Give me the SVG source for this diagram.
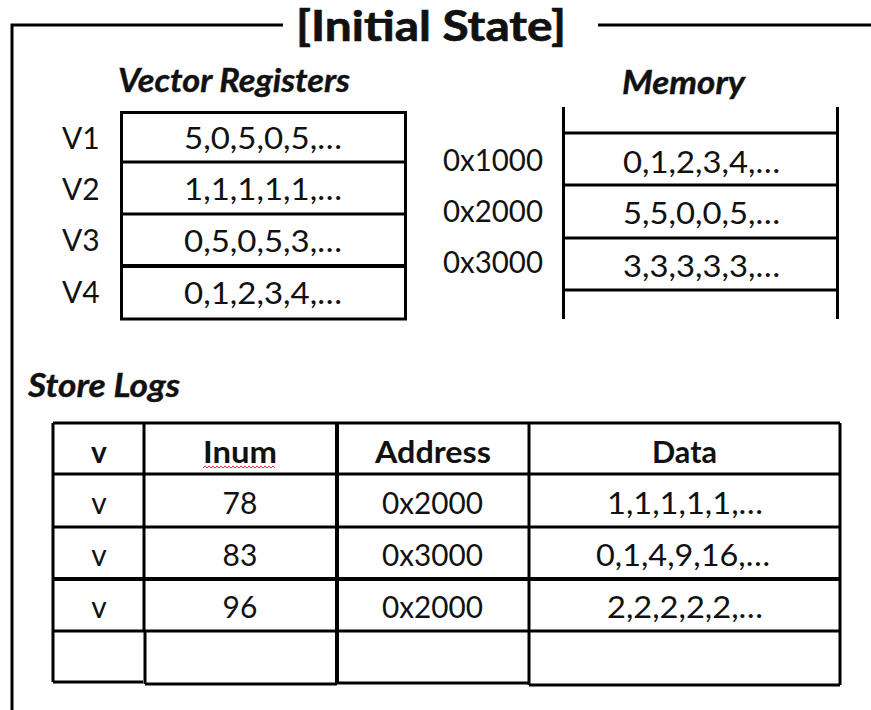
<svg xmlns="http://www.w3.org/2000/svg" width="871" height="710" viewBox="0 0 871 710">
<style>
.ln{stroke:#000;stroke-width:3;fill:none}
.tk{stroke:#000;stroke-width:4;fill:none}
.t{font-family:Lato,"Open Sans","Liberation Sans",sans-serif;font-size:30px;fill:#111}
.c{text-anchor:middle}
.b{font-weight:bold}
.h{font-family:Lato,"Open Sans","Liberation Sans",sans-serif;font-weight:bold;font-style:italic;font-size:32px;fill:#111;stroke:#111;stroke-width:0.4}
.ttl{font-family:Lato,"Open Sans","Liberation Sans",sans-serif;font-weight:bold;font-size:42px;fill:#111;stroke:#111;stroke-width:0.7}
</style>
<rect width="871" height="710" fill="#fff"/>
<g id="frame">
<path class="ln" d="M12,710 V25 H283 M598,25 H871"/>
<text class="ttl" x="296" y="41" textLength="270" lengthAdjust="spacingAndGlyphs">[Initial State]</text>
</g>
<g id="vector-registers">
<text class="h" x="118" y="92" textLength="232" lengthAdjust="spacingAndGlyphs">Vector Registers</text>
<rect class="ln" x="121.5" y="112.5" width="284" height="206.5"/>
<path class="ln" d="M121.5,162 H405.5 M121.5,214 H405.5"/>
<path class="tk" d="M121.5,266 H405.5"/>
<text class="t" x="62" y="149">V1</text>
<text class="t" x="62" y="200">V2</text>
<text class="t" x="62" y="251">V3</text>
<text class="t" x="62" y="303">V4</text>
<text class="t" x="184" y="149" textLength="158" lengthAdjust="spacingAndGlyphs">5,0,5,0,5,…</text>
<text class="t" x="184" y="200" textLength="158" lengthAdjust="spacingAndGlyphs">1,1,1,1,1,…</text>
<text class="t" x="184" y="252" textLength="158" lengthAdjust="spacingAndGlyphs">0,5,0,5,3,…</text>
<text class="t" x="184" y="304" textLength="158" lengthAdjust="spacingAndGlyphs">0,1,2,3,4,…</text>
</g>
<g id="memory">
<text class="h" x="622" y="94" textLength="123" lengthAdjust="spacingAndGlyphs">Memory</text>
<path class="ln" d="M563.5,107 V319 M837.5,107 V319 M563.5,133 H837.5 M563.5,185 H837.5 M563.5,238 H837.5 M563.5,290 H837.5"/>
<text class="t" x="443" y="171" textLength="100" lengthAdjust="spacingAndGlyphs">0x1000</text>
<text class="t" x="443" y="222" textLength="100" lengthAdjust="spacingAndGlyphs">0x2000</text>
<text class="t" x="443" y="273" textLength="100" lengthAdjust="spacingAndGlyphs">0x3000</text>
<text class="t" x="623" y="173" textLength="157" lengthAdjust="spacingAndGlyphs">0,1,2,3,4,…</text>
<text class="t" x="623" y="224" textLength="157" lengthAdjust="spacingAndGlyphs">5,5,0,0,5,…</text>
<text class="t" x="623" y="277" textLength="157" lengthAdjust="spacingAndGlyphs">3,3,3,3,3,…</text>
</g>
<g id="store-logs">
<text class="h" x="28" y="397" textLength="152" lengthAdjust="spacingAndGlyphs">Store Logs</text>
<path class="ln" d="M53,423 H840 M53,474 H840 M53,527 H840 M53,631 H840 M53,682 H143 M145,684 H337 M337,683 H529 M529,685 H840 M53,423 V682 M144,423 V631 M145,631 V684 M529,423 V685 M840,423 V685"/>
<path class="tk" d="M53,579 H840 M337,423 V684"/>
<text class="t b c" x="99" y="463">v</text>
<text class="t b" x="203" y="463" textLength="74" lengthAdjust="spacingAndGlyphs">Inum</text>
<path d="M203,468 l2,-2 l2,2 l2,-2 l2,2 l2,-2 l2,2 l2,-2 l2,2 l2,-2 l2,2 l2,-2 l2,2 l2,-2 l2,2 l2,-2 l2,2 l2,-2 l2,2 l2,-2 l2,2 l2,-2 l2,2 l2,-2 l2,2 l2,-2 l2,2 l2,-2 l2,2 l2,-2 l2,2 l2,-2 l2,2 l2,-2 l2,2 l2,-2 l2,2" stroke="#d33" stroke-width="1" fill="none"/>
<text class="t b" x="375" y="463" textLength="116" lengthAdjust="spacingAndGlyphs">Address</text>
<text class="t b" x="652" y="463" textLength="65" lengthAdjust="spacingAndGlyphs">Data</text>
<text class="t c" x="99" y="514">v</text>
<text class="t c" x="240" y="514">78</text>
<text class="t" x="382" y="514" textLength="101" lengthAdjust="spacingAndGlyphs">0x2000</text>
<text class="t" x="607" y="514" textLength="156" lengthAdjust="spacingAndGlyphs">1,1,1,1,1,…</text>
<text class="t c" x="99" y="566">v</text>
<text class="t c" x="240" y="566">83</text>
<text class="t" x="382" y="566" textLength="101" lengthAdjust="spacingAndGlyphs">0x3000</text>
<text class="t" x="596" y="566" textLength="174" lengthAdjust="spacingAndGlyphs">0,1,4,9,16,…</text>
<text class="t c" x="99" y="618">v</text>
<text class="t c" x="240" y="618">96</text>
<text class="t" x="382" y="618" textLength="101" lengthAdjust="spacingAndGlyphs">0x2000</text>
<text class="t" x="607" y="618" textLength="156" lengthAdjust="spacingAndGlyphs">2,2,2,2,2,…</text>
</g>
</svg>
